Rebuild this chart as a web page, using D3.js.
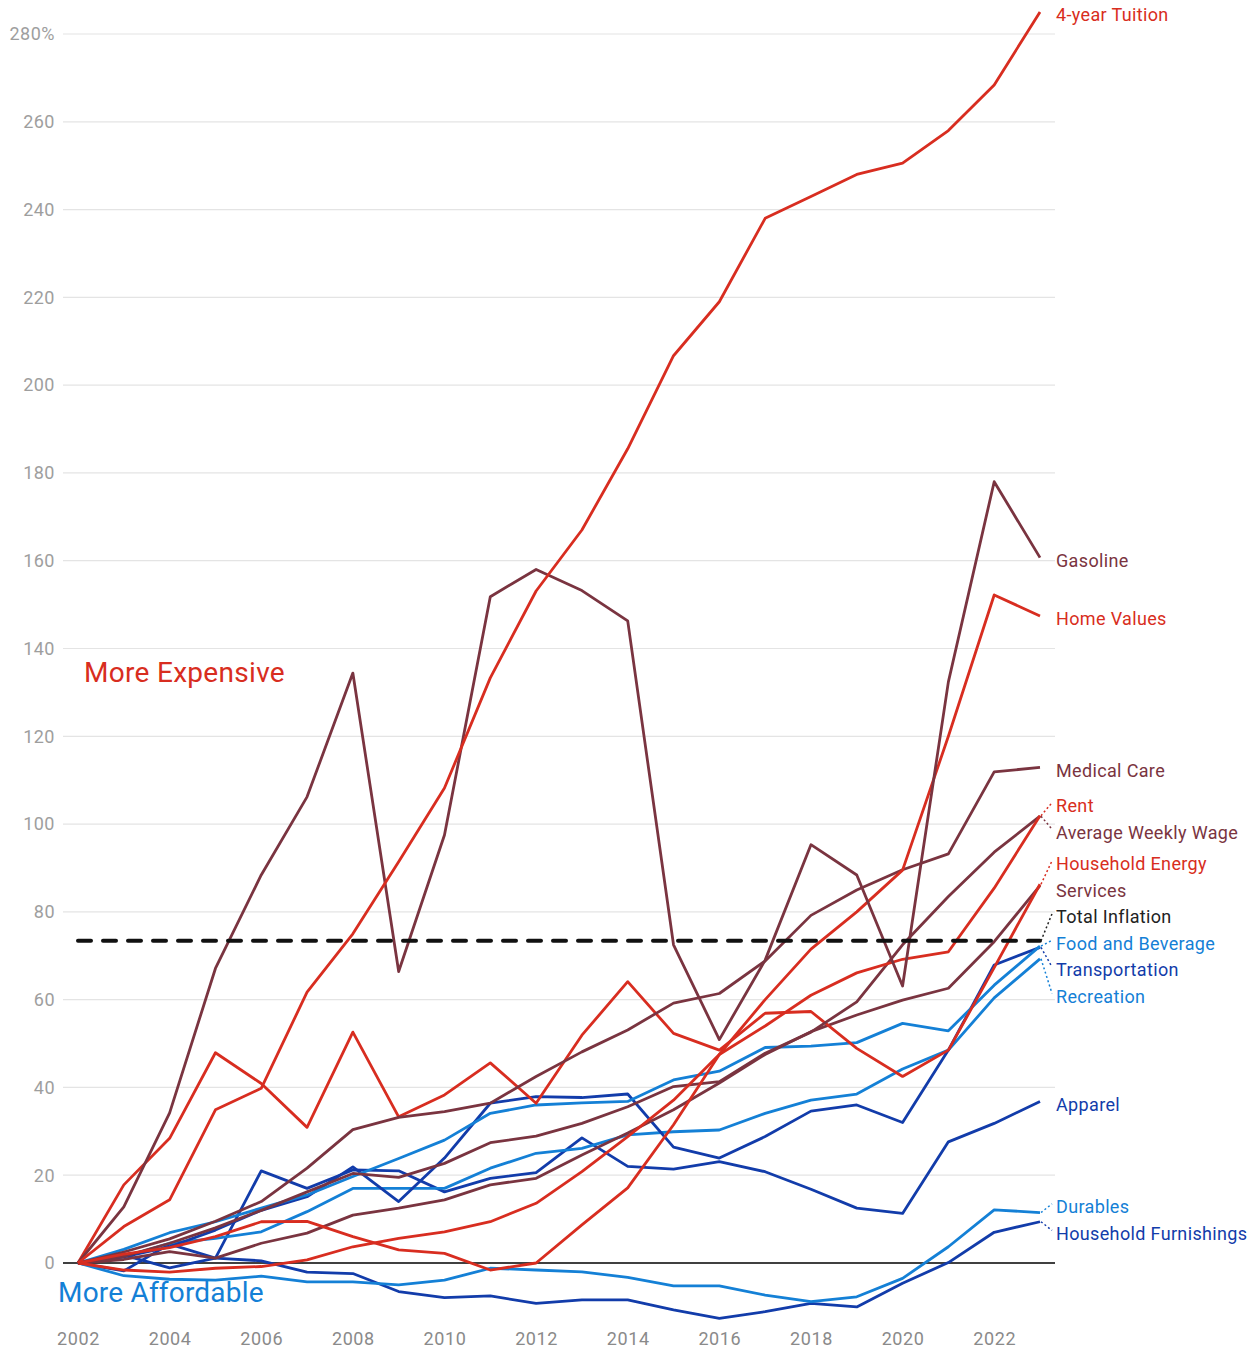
<!DOCTYPE html>
<html>
<head>
<meta charset="utf-8">
<script src="https://cdn.jsdelivr.net/npm/d3@7"></script>
<style>
  body { margin: 0; background: #fff; }
  svg { display: block; font-family: Roboto, "Noto Sans", sans-serif; }
</style>
</head>
<body>
<svg id="chart" width="1256" height="1350"></svg>
<script>
// years and percent change since 2002
var years = d3.range(2002, 2024);
var yTicks = d3.range(0, 281, 20);
var xTicks = d3.range(2002, 2023, 2);

var tuition = [0, 8.3, 14.4, 34.9, 39.8, 61.7, 75, 91.4, 108.2, 133.3, 153.1, 167, 185.5, 206.7, 219, 238, 243, 248, 250.6, 258, 268.4, 285];
var gasoline = [0, 12.8, 34.2, 67.1, 88.4, 106.2, 134.4, 66.4, 97.5, 151.8, 158, 153.2, 146.3, 72.5, 50.9, 69, 95.3, 88.4, 63.1, 132.4, 178, 160.7];
var homeValues = [0, 2, 3.5, 6, 9.4, 9.5, 6, 3, 2.2, -1.6, 0, 8.7, 17.1, 31.5, 47.5, 60, 71.5, 80, 89.5, 120, 152.2, 147.4];
var medicalCare = [0, 2.5, 5.5, 9.5, 14, 21.6, 30.4, 33.2, 34.5, 36.4, 42.5, 48.1, 53.1, 59.2, 61.4, 68.8, 79.2, 85, 89.6, 93.2, 111.9, 112.9];
var rent = [0, -1.6, -2.1, -1.2, -0.8, 0.7, 3.7, 5.6, 7.1, 9.4, 13.6, 20.8, 28.8, 37.1, 47.5, 54, 61, 66.1, 69.2, 70.9, 85.4, 101.9];
var weeklyWage = [0, 1.5, 4.5, 8, 12, 16.2, 20.4, 19.5, 22.7, 27.4, 28.9, 31.8, 35.6, 40.2, 41.3, 47.8, 52.6, 59.5, 72.5, 83.5, 93.6, 101.8];
var householdEnergy = [0, 17.8, 28.4, 47.9, 40.9, 30.9, 52.6, 33.3, 38.3, 45.6, 36.4, 51.9, 64.1, 52.3, 48.5, 56.9, 57.3, 48.9, 42.5, 48.5, 67.3, 86.3];
var services = [0, 0.8, 2.6, 1.1, 4.5, 6.8, 10.9, 12.5, 14.4, 17.8, 19.3, 24.6, 29.6, 34.9, 41, 47.5, 52.7, 56.5, 59.9, 62.6, 73.2, 86];
var totalInflation = 73.4;
var foodBeverage = [0, 3.1, 6.9, 9.4, 12.5, 15.5, 19.7, 23.8, 28, 34.1, 36, 36.5, 36.8, 41.7, 43.7, 49.1, 49.4, 50.2, 54.6, 52.9, 63.3, 72.2];
var transportation = [0, 1.4, 3.7, 7.5, 12, 15.1, 21.9, 14, 23.9, 36.4, 37.9, 37.7, 38.5, 26.4, 23.9, 28.8, 34.6, 36, 32, 48.5, 67.9, 71.9];
var recreation = [0, 1.4, 4.5, 5.6, 7.1, 11.7, 17, 17, 17, 21.6, 25, 26.1, 29.2, 29.9, 30.3, 34.1, 37.1, 38.5, 44.2, 48.5, 60.4, 69.3];
var apparel = [0, 1.8, -1.1, 1.1, 21, 17, 21.2, 21, 16.2, 19.3, 20.6, 28.5, 22, 21.4, 23.1, 20.8, 16.8, 12.5, 11.3, 27.6, 31.8, 36.8];
var durables = [0, -2.9, -3.7, -3.9, -3, -4.3, -4.3, -5, -3.9, -1.2, -1.6, -2, -3.3, -5.2, -5.2, -7.3, -8.8, -7.7, -3.5, 3.7, 12.1, 11.5];
var furnishings = [0, -1.8, 4.3, 1.1, 0.5, -2.1, -2.4, -6.5, -7.9, -7.5, -9.2, -8.4, -8.4, -10.7, -12.6, -11.1, -9.2, -10, -4.6, 0.1, 7, 9.4];

var RED = "#d82d20", MAROON = "#7a3440", LBLUE = "#1480d6", DBLUE = "#123caa";

var series = [
  {name: "Household Furnishings", color: DBLUE, values: furnishings},
  {name: "Durables", color: LBLUE, values: durables},
  {name: "Apparel", color: DBLUE, values: apparel},
  {name: "Recreation", color: LBLUE, values: recreation},
  {name: "Transportation", color: DBLUE, values: transportation},
  {name: "Food and Beverage", color: LBLUE, values: foodBeverage},
  {name: "Services", color: MAROON, values: services},
  {name: "Household Energy", color: RED, values: householdEnergy},
  {name: "Average Weekly Wage", color: MAROON, values: weeklyWage},
  {name: "Rent", color: RED, values: rent},
  {name: "Medical Care", color: MAROON, values: medicalCare},
  {name: "Home Values", color: RED, values: homeValues},
  {name: "Gasoline", color: MAROON, values: gasoline},
  {name: "4-year Tuition", color: RED, values: tuition}
];

var svg = d3.select("#chart");

var x = d3.scaleLinear().domain([2002, 2023]).range([78, 1040]);
var y = d3.scaleLinear().domain([0, 280]).range([1263, 34]);
var gridL = 63, gridR = 1055;

// grid + y labels
svg.append("g")
  .selectAll("line")
  .data(yTicks.filter(function(d){ return d !== 0; }))
  .join("line")
  .attr("x1", gridL).attr("x2", gridR)
  .attr("y1", function(d){ return y(d); })
  .attr("y2", function(d){ return y(d); })
  .attr("stroke", "#e4e4e4")
  .attr("stroke-width", 1.2);

svg.append("g")
  .selectAll("text")
  .data(yTicks)
  .join("text")
  .attr("x", 55)
  .attr("y", function(d){ return y(d); })
  .attr("dy", "0.35em")
  .attr("text-anchor", "end")
  .attr("fill", "#9e9e9e")
  .style("font-size", "18px")
  .style("letter-spacing", "0.5px")
  .text(function(d){ return d === 280 ? d + "%" : d; });

// x labels
var xAxis = d3.axisBottom(x)
  .tickValues(xTicks)
  .tickFormat(d3.format("d"))
  .tickSize(0)
  .tickPadding(0);
var gx = svg.append("g")
  .attr("transform", "translate(0,1332)")
  .call(xAxis);
gx.select(".domain").remove();
gx.selectAll("text")
  .attr("fill", "#8a8a8a")
  .style("font-size", "18px")
  .style("letter-spacing", "0.6px")
  .style("font-family", "Roboto, sans-serif");

// zero line
svg.append("line")
  .attr("x1", gridL).attr("x2", gridR)
  .attr("y1", y(0)).attr("y2", y(0))
  .attr("stroke", "#000")
  .attr("stroke-width", 1.3);

// annotations
svg.append("text")
  .attr("x", 84).attr("y", 672)
  .attr("dy", "0.35em")
  .attr("fill", RED)
  .style("font-size", "28px")
  .style("letter-spacing", "0.3px")
  .text("More Expensive");
svg.append("text")
  .attr("x", 58).attr("y", 1292)
  .attr("dy", "0.35em")
  .attr("fill", LBLUE)
  .style("font-size", "28px")
  .style("letter-spacing", "0.2px")
  .text("More Affordable");

// lines
var line = d3.line()
  .x(function(d, i){ return x(years[i]); })
  .y(function(d){ return y(d); });

svg.append("g")
  .selectAll("path")
  .data(series)
  .join("path")
  .attr("d", function(d){ return line(d.values); })
  .attr("fill", "none")
  .attr("stroke", function(d){ return d.color; })
  .attr("stroke-width", 2.8)
  .attr("stroke-linejoin", "round");

// total inflation reference
svg.append("line")
  .attr("x1", x(2002)).attr("x2", x(2023))
  .attr("y1", y(totalInflation)).attr("y2", y(totalInflation))
  .attr("stroke", "#111")
  .attr("stroke-width", 4)
  .attr("stroke-linecap", "round")
  .attr("stroke-dasharray", "13,12");

// end labels, pushed apart where they collide
var labels = series.map(function(s){
  var last = s.values[s.values.length - 1];
  return {name: s.name, color: s.color, yEnd: y(last), target: y(last) + 3};
});
labels.push({name: "Total Inflation", color: "#222", yEnd: y(totalInflation), target: y(totalInflation) + 3});

function placeLabels(items, gap){
  items.sort(function(a, b){ return a.target - b.target; });
  var groups = items.map(function(d){ return [d]; });
  var top = function(g){
    return d3.mean(g, function(d){ return d.target; }) - (g.length - 1) * gap / 2;
  };
  var i = 1;
  while(i < groups.length){
    var prev = groups[i-1], cur = groups[i];
    if(top(cur) < top(prev) + prev.length * gap){
      groups.splice(i-1, 2, prev.concat(cur));
      i = Math.max(1, i-1);
    } else {
      i++;
    }
  }
  groups.forEach(function(g){
    var t = top(g);
    g.forEach(function(d, k){ d.y = t + k * gap; });
  });
}
placeLabels(labels, 26.5);

var gl = svg.append("g");
gl.selectAll("line")
  .data(labels.filter(function(d){ return Math.abs(d.y - d.target) > 4; }))
  .join("line")
  .attr("x1", 1041).attr("y1", function(d){ return d.yEnd; })
  .attr("x2", 1052).attr("y2", function(d){ return d.y - 3; })
  .attr("stroke", function(d){ return d.color; })
  .attr("stroke-width", 1.5)
  .attr("stroke-dasharray", "2,2.5");

gl.selectAll("text")
  .data(labels)
  .join("text")
  .attr("x", 1056)
  .attr("y", function(d){ return d.y; })
  .attr("dy", "0.35em")
  .attr("fill", function(d){ return d.color; })
  .style("font-size", "18px")
  .style("letter-spacing", "0.35px")
  .text(function(d){ return d.name; });
</script>
</body>
</html>
